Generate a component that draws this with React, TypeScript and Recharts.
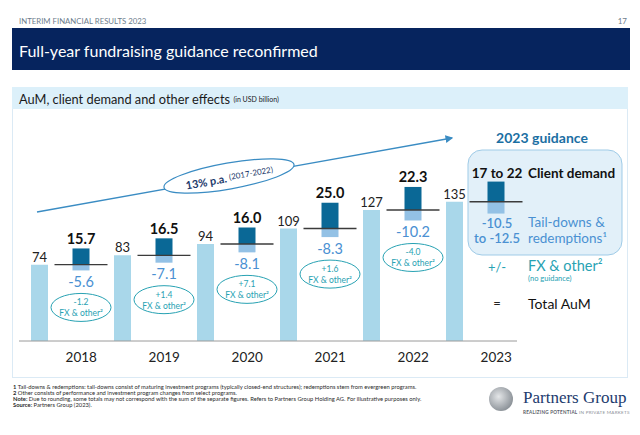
import { BarChart, Bar, XAxis, YAxis, LabelList } from "recharts";

const FONT = "Lato, 'Noto Sans', sans-serif";
const NAVY = "#06245e";
const AUM_BLUE = "#a9d7ea";
const DEMAND_BLUE = "#0a6896";
const TAIL_BLUE = "#93c1e5";
const TAIL_TEXT = "#4a90d2";
const TEAL = "#28a2b3";

// AuM at the start of each year (prior year-end), USD bn
const years = ["2018", "2019", "2020", "2021", "2022", "2023"];
const aumOpening = [74, 83, 94, 109, 127, 135];
const clientDemand = [15.7, 16.5, 16.0, 25.0, 22.3, 19.5];
const tailDowns = [-5.6, -7.1, -8.1, -8.3, -10.2, -11.5];
const fxOther = ["-1.2", "+1.4", "+7.1", "+1.6", "-4.0", null];
const guidanceYear = "2023";

const rows = years.flatMap((y, i) => [
  { slot: "AuM " + y, aum: aumOpening[i] },
  {
    slot: y,
    base: aumOpening[i] + tailDowns[i],
    tail: -tailDowns[i],
    demand: clientDemand[i],
    demandLabel: y === guidanceYear ? null : clientDemand[i].toFixed(1),
    tailLabel: y === guidanceYear ? null : tailDowns[i].toFixed(1),
    fx: fxOther[i],
  },
]);

function DemandShape(p: any) {
  if (p.payload?.demand == null) return <g />;
  const bottom = p.y + p.height;
  return (
    <g>
      <rect x={p.x} y={p.y} width={p.width} height={p.height} fill={DEMAND_BLUE} />
      <line x1={p.x - 18} x2={p.x + p.width + 18} y1={bottom} y2={bottom} stroke="#3b3b3b" strokeWidth={1.4} />
    </g>
  );
}

function AumLabel(p: any) {
  if (p.value == null) return null;
  return (
    <text x={p.x + p.width / 2} y={p.y - 8} textAnchor="middle" dominantBaseline="central" fontSize={13} fill="#222" fontFamily={FONT}>
      {p.value}
    </text>
  );
}

function DemandLabel(p: any) {
  if (p.value == null) return null;
  return (
    <text x={p.x + p.width / 2} y={p.y - 10} textAnchor="middle" dominantBaseline="central" fontSize={14.5} fontWeight={700} fill="#111" fontFamily={FONT}>
      {p.value}
    </text>
  );
}

function TailLabel(p: any) {
  if (p.value == null) return null;
  return (
    <text x={p.x + p.width / 2} y={p.y + p.height + 11} textAnchor="middle" dominantBaseline="central" fontSize={14.5} fill={TAIL_TEXT} fontFamily={FONT}>
      {p.value}
    </text>
  );
}

function FxBubble(p: any) {
  if (p.value == null) return null;
  const cx = p.x + p.width / 2;
  const cy = p.y + p.height + 37;
  return (
    <g fontFamily={FONT} fill={TEAL} textAnchor="middle">
      <ellipse cx={cx} cy={cy} rx={30} ry={14} fill="#fff" stroke={TEAL} strokeWidth={1} />
      <text x={cx} y={cy - 5} dominantBaseline="central" fontSize={8.5}>{p.value}</text>
      <text x={cx} y={cy + 6} dominantBaseline="central" fontSize={8.5}>FX &amp; other²</text>
    </g>
  );
}

function YearTick(p: any) {
  const v: string = p.payload.value;
  if (v.startsWith("AuM")) return <g />;
  return (
    <text x={p.x} y={p.y + 8} textAnchor="middle" dominantBaseline="central" fontSize={13.5} fill="#222" fontFamily={FONT}>
      {v}
    </text>
  );
}

function Backdrop() {
  return (
    <svg width={640} height={435} style={{ position: "absolute", left: 0, top: 0 }} fontFamily={FONT}>
      <rect width={640} height={435} fill="#fff" />
      <text x={19} y={21} fontSize={7.8} fill="#6d7d8c" dominantBaseline="central">INTERIM FINANCIAL RESULTS 2023</text>
      <text x={627} y={21} fontSize={8} fill="#6d7d8c" textAnchor="end" dominantBaseline="central">17</text>
      <rect x={12} y={28} width={618} height={42} fill={NAVY} />
      <text x={19} y={50} fontSize={16} fill="#fff" dominantBaseline="central">Full-year fundraising guidance reconfirmed</text>

      <rect x={12.5} y={87.5} width={615} height={290} fill="#fff" stroke="#dbeaf5" />
      <rect x={12} y={87} width={616} height={22} fill="#dcf0fa" />
      <text x={19} y={99} dominantBaseline="central" fill="#1a1a1a">
        <tspan fontSize={12.8}>AuM, client demand and other effects </tspan>
        <tspan fontSize={7}>(in USD billion)</tspan>
      </text>

      {/* trend arrow */}
      <defs>
        <marker id="head" markerWidth={6} markerHeight={6} refX={5} refY={3} orient="auto">
          <path d="M0,0 L6,3 L0,6 Z" fill="#3a8cc3" />
        </marker>
        <radialGradient id="globe" cx="40%" cy="40%" r="60%">
          <stop offset="0%" stopColor="#e4e6e8" />
          <stop offset="100%" stopColor="#8f959b" />
        </radialGradient>
      </defs>
      <line x1={37} y1={212} x2={452} y2={138} stroke="#3a8cc3" strokeWidth={1.3} markerEnd="url(#head)" />
      <g transform="rotate(-10 229 176)">
        <ellipse cx={229} cy={176} rx={66} ry={13} fill="#fff" stroke="#3a8cc3" strokeWidth={1.2} />
        <text x={229} y={177} textAnchor="middle" dominantBaseline="central" fill="#1d3a6b">
          <tspan fontSize={11} fontWeight={700}>13% p.a. </tspan>
          <tspan fontSize={8}>(2017-2022)</tspan>
        </text>
      </g>

      {/* 2023 guidance box */}
      <text x={542} y={137} textAnchor="middle" dominantBaseline="central" fontSize={14} fontWeight={700} fill="#1b6fa3">2023 guidance</text>
      <rect x={468} y={150} width={154} height={105} rx={14} fill="#e2f0f9" stroke="#9fcbe7" />
      <g dominantBaseline="central">
        <text x={497} y={173} textAnchor="middle" fontSize={13.5} fontWeight={700} fill="#111">17 to 22</text>
        <text x={528} y={173} fontSize={13.5} fontWeight={700} fill="#111">Client demand</text>
        <text x={497} y={223} textAnchor="middle" fontSize={13} fontWeight={600} fill={TAIL_TEXT}>-10.5</text>
        <text x={497} y={238} textAnchor="middle" fontSize={13} fontWeight={600} fill={TAIL_TEXT}>to -12.5</text>
        <text x={528} y={222} fontSize={13.5} fill={TAIL_TEXT}>Tail-downs &amp;</text>
        <text x={528} y={238} fontSize={13.5} fill={TAIL_TEXT}>redemptions¹</text>
        <text x={497} y={267} textAnchor="middle" fontSize={13} fill={TEAL}>+/-</text>
        <text x={528} y={265} fontSize={14.5} fill={TEAL}>FX &amp; other²</text>
        <text x={528} y={278} fontSize={7.5} fill={TEAL}>(no guidance)</text>
        <text x={497} y={303} textAnchor="middle" fontSize={13} fill="#222">=</text>
        <text x={528} y={303} fontSize={14} fill="#111">Total AuM</text>
      </g>

      {/* footnotes */}
      <g fontSize={5.8} fill="#2a2a2a">
        <text x={13} y={389}><tspan fontWeight={700}>1 </tspan>Tail-downs &amp; redemptions: tail-downs consist of maturing investment programs (typically closed-end structures); redemptions stem from evergreen programs.</text>
        <text x={13} y={395}><tspan fontWeight={700}>2 </tspan>Other consists of performance and investment program changes from select programs.</text>
        <text x={13} y={401}><tspan fontWeight={700}>Note: </tspan>Due to rounding, some totals may not correspond with the sum of the separate figures. Refers to Partners Group Holding AG. For illustrative purposes only.</text>
        <text x={13} y={407}><tspan fontWeight={700}>Source: </tspan>Partners Group (2023).</text>
      </g>

      {/* logo */}
      <circle cx={501} cy={399} r={12} fill="url(#globe)" />
      <text x={523} y={403} fontSize={17} fontFamily="'Liberation Serif', serif" fill="#1d3b6e">Partners Group</text>
      <text x={523} y={414} fontSize={4.6} letterSpacing={0.25} fill="#8a8f96">
        <tspan fontWeight={700} fill="#5a6068">REALIZING POTENTIAL</tspan> IN PRIVATE MARKETS
      </text>
    </svg>
  );
}

export default function App() {
  return (
    <div style={{ position: "absolute", left: 0, top: 0, width: 640, height: 435, overflow: "hidden", fontFamily: FONT }}>
      <Backdrop />
      <div style={{ position: "absolute", left: 0, top: 0 }}>
        <BarChart width={640} height={435} data={rows} barSize={17} margin={{ top: 114, right: 123, bottom: 64, left: 19 }}>
          <XAxis dataKey="slot" height={30} interval={0} tickLine={false} axisLine={{ stroke: "#9a9a9a" }} tick={<YearTick />} />
          <YAxis hide domain={[0, 220]} />
          <Bar dataKey="aum" stackId="s" fill={AUM_BLUE} isAnimationActive={false}>
            <LabelList dataKey="aum" content={<AumLabel />} />
          </Bar>
          <Bar dataKey="base" stackId="s" fill="transparent" isAnimationActive={false} />
          <Bar dataKey="tail" stackId="s" fill={TAIL_BLUE} isAnimationActive={false}>
            <LabelList dataKey="tailLabel" content={<TailLabel />} />
            <LabelList dataKey="fx" content={<FxBubble />} />
          </Bar>
          <Bar dataKey="demand" stackId="s" fill={DEMAND_BLUE} shape={<DemandShape />} isAnimationActive={false}>
            <LabelList dataKey="demandLabel" content={<DemandLabel />} />
          </Bar>
        </BarChart>
      </div>
    </div>
  );
}
